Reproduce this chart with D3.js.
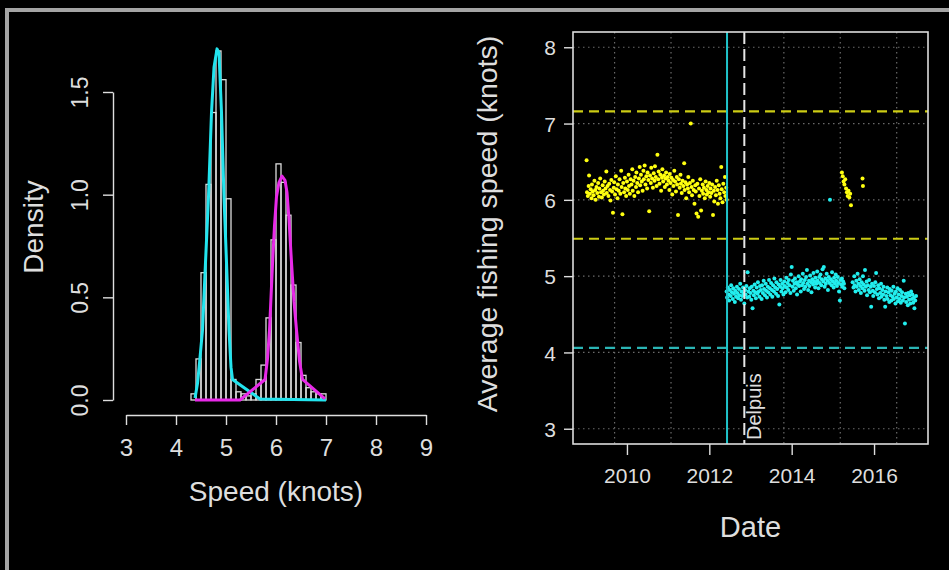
<!DOCTYPE html>
<html><head><meta charset="utf-8">
<script src="https://cdn.jsdelivr.net/npm/d3@7"></script>
<style>html,body{margin:0;padding:0;background:#000;}svg{display:block;}</style>
</head><body>
<script>
// ---------- DATA ----------
// Left panel: histogram of speeds (density) with fitted mixture components
const binStarts = [4.3,4.4,4.5,4.6,4.7,4.8,4.9,5.0,5.1,5.2,5.3,5.4,5.5,5.6,5.7,5.8,5.9,6.0,6.1,6.2,6.3,6.4,6.5,6.6,6.7,6.8,6.9];
const binDensity = [0.03,0.20,0.62,1.05,1.40,1.70,1.56,0.98,0.10,0.04,0.03,0.02,0.03,0.10,0.17,0.40,0.78,1.15,1.06,0.90,0.56,0.28,0.12,0.06,0.04,0.03,0.03];
const binWidth = 0.1;
const cyanCurve = [[4.38,0.01],[4.43,0.08],[4.47,0.18],[4.53,0.34],[4.59,0.67],[4.65,0.99],[4.71,1.40],[4.76,1.62],[4.82,1.71],[4.86,1.69],[4.91,1.40],[4.96,0.99],[5.01,0.67],[5.06,0.34],[5.10,0.16],[5.13,0.10],[5.68,0.005],[7.0,0.0]];
const magentaCurve = [[4.38,0.0],[5.28,0.0],[5.78,0.10],[5.83,0.20],[5.87,0.34],[5.93,0.66],[5.97,0.85],[6.01,0.99],[6.06,1.06],[6.12,1.09],[6.18,1.07],[6.22,1.01],[6.26,0.88],[6.31,0.67],[6.36,0.48],[6.41,0.34],[6.47,0.19],[6.53,0.10],[6.98,0.005]];
const xTicksL = [3,4,5,6,7,8,9];
const yTicksL = [0,0.5,1.0,1.5];

// Right panel: average fishing speed over time [decimal year, knots]
const yellowPts = [[2009.02,6.52],[2009.03,6.10],[2009.05,6.05],[2009.07,6.18],[2009.08,6.32],[2009.10,6.08],[2009.12,6.14],[2009.14,6.02],[2009.15,6.20],[2009.17,6.11],[2009.19,6.06],[2009.21,6.25],[2009.23,6.13],[2009.24,6.00],[2009.26,6.17],[2009.28,6.09],[2009.30,6.22],[2009.32,6.04],[2009.33,6.15],[2009.35,6.28],[2009.37,6.10],[2009.39,6.03],[2009.41,6.19],[2009.42,6.12],[2009.44,6.07],[2009.46,6.24],[2009.48,6.15],[2009.50,6.37],[2009.51,6.09],[2009.53,6.18],[2009.55,6.05],[2009.57,6.21],[2009.59,6.13],[2009.60,5.99],[2009.62,6.26],[2009.64,6.11],[2009.66,5.83],[2009.68,6.16],[2009.69,6.23],[2009.71,6.07],[2009.73,6.31],[2009.75,6.14],[2009.77,6.02],[2009.78,6.20],[2009.80,6.12],[2009.82,6.27],[2009.84,6.08],[2009.86,6.38],[2009.87,6.17],[2009.89,5.81],[2009.91,6.22],[2009.93,6.10],[2009.95,6.29],[2009.96,6.15],[2009.98,6.05],[2010.00,6.24],[2010.02,6.13],[2010.04,6.33],[2010.05,6.18],[2010.07,6.08],[2010.09,6.27],[2010.11,6.20],[2010.13,6.40],[2010.14,6.12],[2010.16,6.25],[2010.18,6.05],[2010.20,6.30],[2010.22,6.17],[2010.23,6.36],[2010.25,6.22],[2010.27,6.10],[2010.29,6.28],[2010.31,6.43],[2010.32,6.19],[2010.34,6.33],[2010.36,6.24],[2010.38,6.12],[2010.40,6.38],[2010.41,6.27],[2010.43,6.45],[2010.45,6.20],[2010.47,6.31],[2010.49,6.15],[2010.50,6.36],[2010.52,6.26],[2010.54,5.85],[2010.56,6.32],[2010.58,6.22],[2010.59,6.42],[2010.61,6.28],[2010.63,6.16],[2010.65,6.35],[2010.67,6.25],[2010.68,6.44],[2010.70,6.30],[2010.72,6.18],[2010.74,6.59],[2010.76,6.27],[2010.77,6.37],[2010.79,6.21],[2010.81,6.33],[2010.83,6.12],[2010.85,6.29],[2010.86,6.40],[2010.88,6.24],[2010.90,6.32],[2010.92,6.17],[2010.94,6.28],[2010.95,6.36],[2010.97,6.20],[2010.99,6.30],[2011.01,6.25],[2011.03,6.13],[2011.04,6.34],[2011.06,6.22],[2011.08,6.29],[2011.10,6.07],[2011.12,6.26],[2011.13,6.18],[2011.15,6.38],[2011.17,6.24],[2011.19,6.11],[2011.21,6.30],[2011.22,6.20],[2011.24,5.80],[2011.26,6.27],[2011.28,6.16],[2011.30,6.33],[2011.31,6.21],[2011.33,6.09],[2011.35,6.25],[2011.37,6.18],[2011.39,6.48],[2011.40,6.13],[2011.42,6.23],[2011.44,6.02],[2011.46,6.20],[2011.48,6.15],[2011.49,6.30],[2011.51,6.10],[2011.53,6.22],[2011.55,7.00],[2011.57,6.17],[2011.58,6.06],[2011.60,6.25],[2011.62,6.13],[2011.64,5.95],[2011.66,6.19],[2011.67,6.11],[2011.69,5.82],[2011.71,6.21],[2011.73,5.78],[2011.75,6.15],[2011.76,6.05],[2011.78,6.27],[2011.80,5.86],[2011.82,6.12],[2011.84,6.20],[2011.85,6.08],[2011.87,6.16],[2011.89,6.02],[2011.91,6.24],[2011.93,6.13],[2011.94,6.07],[2011.96,6.18],[2011.98,6.10],[2012.00,6.22],[2012.02,6.04],[2012.03,6.15],[2012.05,6.09],[2012.07,6.20],[2012.09,5.80],[2012.11,6.12],[2012.12,5.98],[2012.14,6.17],[2012.16,6.06],[2012.18,6.25],[2012.20,6.13],[2012.21,5.95],[2012.23,6.19],[2012.25,6.08],[2012.27,6.02],[2012.29,6.43],[2012.30,6.14],[2012.32,5.97],[2012.34,6.21],[2012.36,6.10],[2012.38,6.30],[2012.39,6.05],[2012.41,6.16],[2012.42,6.00],
[2015.22,6.36],[2015.24,6.31],[2015.26,6.24],[2015.28,6.20],[2015.30,6.27],[2015.32,6.15],[2015.34,6.10],[2015.36,6.05],[2015.38,6.12],[2015.40,6.03],[2015.42,6.08],[2015.44,5.93],[2015.72,6.28],[2015.73,6.18]];
const cyanPts = [[2012.42,4.80],[2012.43,4.72],[2012.45,4.85],[2012.47,4.76],[2012.48,4.68],[2012.50,4.82],[2012.52,4.74],[2012.53,4.88],[2012.55,4.79],[2012.57,4.70],[2012.58,4.84],[2012.60,4.77],[2012.62,4.66],[2012.63,4.81],[2012.65,4.73],[2012.67,4.86],[2012.68,4.78],[2012.70,4.71],[2012.72,4.83],[2012.73,4.75],[2012.75,4.90],[2012.77,4.69],[2012.78,4.80],[2012.80,4.74],[2012.82,4.85],[2012.83,4.77],[2012.85,4.64],[2012.87,4.82],[2012.88,4.76],[2012.90,4.87],[2012.92,4.72],[2012.93,5.05],[2012.95,4.80],[2012.97,4.73],[2012.98,4.84],[2013.00,4.78],[2013.02,4.69],[2013.03,4.86],[2013.05,4.58],[2013.07,4.81],[2013.08,4.75],[2013.10,4.89],[2013.12,4.79],[2013.13,4.71],[2013.15,4.85],[2013.17,4.77],[2013.18,4.92],[2013.20,4.80],[2013.22,4.73],[2013.23,4.87],[2013.25,4.82],[2013.27,4.70],[2013.28,4.88],[2013.30,4.78],[2013.32,4.94],[2013.33,4.83],[2013.35,4.75],[2013.37,4.90],[2013.38,4.81],[2013.40,4.72],[2013.42,4.86],[2013.43,4.79],[2013.45,4.95],[2013.47,4.84],[2013.48,4.76],[2013.50,4.91],[2013.52,4.82],[2013.53,4.73],[2013.55,4.88],[2013.57,4.80],[2013.58,4.97],[2013.60,4.85],[2013.62,4.77],[2013.63,4.92],[2013.65,4.83],[2013.67,4.74],[2013.68,4.89],[2013.70,4.63],[2013.72,4.86],[2013.73,4.95],[2013.75,4.80],[2013.77,4.90],[2013.78,4.84],[2013.80,4.76],[2013.82,4.93],[2013.83,4.87],[2013.85,4.79],[2013.87,4.98],[2013.88,4.85],[2013.90,4.91],[2013.92,4.82],[2013.93,4.95],[2013.95,4.88],[2013.97,4.78],[2013.98,5.02],[2014.00,5.12],[2014.02,4.86],[2014.03,4.94],[2014.05,4.81],[2014.07,4.90],[2014.08,4.97],[2014.10,4.84],[2014.12,4.92],[2014.13,4.76],[2014.15,4.89],[2014.17,5.00],[2014.18,4.87],[2014.20,4.93],[2014.22,4.80],[2014.23,4.96],[2014.25,4.88],[2014.27,5.03],[2014.28,4.91],[2014.30,4.83],[2014.32,4.95],[2014.33,4.86],[2014.35,4.99],[2014.37,5.08],[2014.38,4.90],[2014.40,4.82],[2014.42,4.94],[2014.43,4.87],[2014.45,5.01],[2014.47,4.92],[2014.48,4.79],[2014.50,4.96],[2014.52,4.89],[2014.53,5.04],[2014.55,4.93],[2014.57,4.85],[2014.58,4.98],[2014.60,4.90],[2014.62,5.06],[2014.63,4.94],[2014.65,4.84],[2014.67,4.99],[2014.68,4.91],[2014.70,5.02],[2014.72,4.88],[2014.73,4.96],[2014.75,5.09],[2014.77,4.93],[2014.78,5.12],[2014.80,4.86],[2014.82,4.97],[2014.83,4.90],[2014.85,5.03],[2014.87,4.94],[2014.88,4.82],[2014.90,4.99],[2014.92,4.91],[2014.93,6.00],[2014.95,4.96],[2014.97,4.88],[2014.98,5.05],[2015.00,4.93],[2015.02,4.85],[2015.03,4.98],[2015.05,4.90],[2015.07,5.02],[2015.08,4.94],[2015.10,4.87],[2015.12,4.99],[2015.13,4.91],[2015.15,4.80],[2015.17,4.68],[2015.18,4.95],[2015.20,4.89],[2015.22,4.97],[2015.23,4.86],[2015.25,4.93],[2015.27,4.90],[2015.28,4.84],[2015.48,4.92],[2015.50,4.85],[2015.52,5.00],[2015.53,4.88],[2015.55,4.80],[2015.57,4.94],[2015.58,4.86],[2015.60,5.03],[2015.62,4.90],[2015.63,4.82],[2015.65,4.96],[2015.67,4.87],[2015.68,4.78],[2015.70,4.92],[2015.72,4.84],[2015.73,5.00],[2015.75,4.89],[2015.77,4.81],[2015.78,5.08],[2015.80,4.86],[2015.82,4.93],[2015.83,4.75],[2015.85,4.88],[2015.87,4.82],[2015.88,4.95],[2015.90,4.79],[2015.92,4.86],[2015.93,4.60],[2015.95,4.90],[2015.97,4.81],[2015.98,4.74],[2016.00,4.87],[2016.02,4.79],[2016.03,4.92],[2016.05,5.04],[2016.07,4.83],[2016.08,4.76],[2016.10,4.88],[2016.12,4.71],[2016.13,4.84],[2016.15,4.78],[2016.17,4.90],[2016.18,4.73],[2016.20,4.82],[2016.22,4.76],[2016.23,4.86],[2016.25,4.69],[2016.27,4.60],[2016.28,4.80],[2016.30,4.74],[2016.32,4.85],[2016.33,4.70],[2016.35,4.79],[2016.37,4.66],[2016.38,4.83],[2016.40,4.75],[2016.42,4.68],[2016.43,4.81],[2016.45,4.73],[2016.47,4.86],[2016.48,4.70],[2016.50,4.77],[2016.52,4.64],[2016.53,4.80],[2016.55,4.72],[2016.57,4.84],[2016.58,4.67],[2016.60,4.76],[2016.62,4.70],[2016.63,4.82],[2016.65,4.65],[2016.67,4.74],[2016.68,4.79],[2016.70,4.68],[2016.72,4.94],[2016.73,4.72],[2016.75,4.38],[2016.77,4.77],[2016.78,4.66],[2016.80,4.73],[2016.82,4.62],[2016.83,4.78],[2016.85,4.69],[2016.87,4.75],[2016.88,4.64],[2016.90,4.80],[2016.92,4.70],[2016.93,4.76],[2016.95,4.65],[2016.97,4.72],[2016.98,4.58],[2017.00,4.68],[2017.02,4.74]];
const yellowLimits = [7.16, 5.49];
const cyanLimits = [4.06];
const changeYear = 2012.43;      // solid cyan vertical line
const delpuisYear = 2012.85;     // dashed white vertical line
const delpuisLabel = "Delpuis";
const xTicksR = [2010,2012,2014,2016];
const yTicksR = [3,4,5,6,7,8];
const gridYears = [2009.70,2011.07,2012.44,2013.81,2015.18,2016.55];

// ---------- DRAW ----------
const W = 949, H = 570;
const FONT = "'Liberation Sans', Arial, Helvetica, sans-serif";
const TXT = "#dedede";
const svg = d3.select("body").append("svg").attr("width", W).attr("height", H)
  .style("background", "#000").style("font-family", FONT);
svg.append("rect").attr("width", W).attr("height", H).attr("fill", "#000");

// frame
svg.append("line").attr("x1", 7).attr("x2", 7).attr("y1", 8).attr("y2", H).attr("stroke", "#a4a4a4").attr("stroke-width", 4);
svg.append("line").attr("x1", 5).attr("x2", W).attr("y1", 10).attr("y2", 10).attr("stroke", "#a4a4a4").attr("stroke-width", 4);

function styleAxis(g) {
  g.selectAll("path,line").attr("stroke", TXT).attr("stroke-width", 1.4);
  g.selectAll("text").attr("fill", TXT).style("font-family", FONT);
}

// ----- Left panel -----
const xL = d3.scaleLinear().domain([3, 9]).range([126, 426]);
const yL = d3.scaleLinear().domain([0, 1.5]).range([400, 92]);
const gLeft = svg.append("g");

gLeft.selectAll("rect.bar").data(binStarts).enter().append("rect")
  .attr("x", d => xL(d)).attr("width", d => xL(d + binWidth) - xL(d))
  .attr("y", (d, i) => yL(binDensity[i])).attr("height", (d, i) => yL(0) - yL(binDensity[i]))
  .attr("fill", "none").attr("stroke", "#dcdcdc").attr("stroke-width", 1.3);

const lineL = d3.line().x(d => xL(d[0])).y(d => yL(d[1]));
gLeft.append("path").attr("d", lineL(cyanCurve)).attr("fill", "none").attr("stroke", "#22e4ee").attr("stroke-width", 3).attr("stroke-linejoin", "round");
gLeft.append("path").attr("d", lineL(magentaCurve)).attr("fill", "none").attr("stroke", "#e829e8").attr("stroke-width", 3).attr("stroke-linejoin", "round");

const axLY = gLeft.append("g").attr("transform", "translate(113,0)")
  .call(d3.axisLeft(yL).tickValues(yTicksL).tickSize(10).tickSizeOuter(0).tickFormat(d3.format(".1f")));
styleAxis(axLY);
axLY.selectAll("text").attr("x", null).attr("dy", null).attr("text-anchor", "middle")
  .attr("transform", "translate(-25,0) rotate(-90)").style("font-size", "23px");

const axLX = gLeft.append("g").attr("transform", "translate(0,415)")
  .call(d3.axisBottom(xL).tickValues(xTicksL).tickSize(10).tickSizeOuter(0).tickFormat(d3.format("d")));
styleAxis(axLX);
axLX.selectAll("text").attr("y", 41).attr("dy", null).style("font-size", "24px");

gLeft.append("text").attr("transform", "translate(43,227) rotate(-90)").attr("text-anchor", "middle")
  .attr("fill", TXT).style("font-size", "28px").text("Density");
gLeft.append("text").attr("x", 276).attr("y", 501).attr("text-anchor", "middle")
  .attr("fill", TXT).style("font-size", "28px").text("Speed (knots)");

// ----- Right panel -----
const box = {x0: 573, x1: 928, y0: 32, y1: 444};
const xR = d3.scaleLinear().domain([2008.69, 2017.31]).range([box.x0, box.x1]);
const yR = d3.scaleLinear().domain([2.8, 8.2]).range([box.y1, box.y0]);
const gR = svg.append("g");

// grid
gR.selectAll("line.gy").data(yTicksR).enter().append("line")
  .attr("x1", box.x0).attr("x2", box.x1).attr("y1", d => yR(d)).attr("y2", d => yR(d))
  .attr("stroke", "#6a6a6a").attr("stroke-width", 1.2).attr("stroke-dasharray", "1.5,3.5");
gR.selectAll("line.gx").data(gridYears).enter().append("line")
  .attr("x1", d => xR(d)).attr("x2", d => xR(d)).attr("y1", box.y0).attr("y2", box.y1)
  .attr("stroke", "#6a6a6a").attr("stroke-width", 1.2).attr("stroke-dasharray", "1.5,3.5");

// limit lines
gR.selectAll("line.yl").data(yellowLimits).enter().append("line")
  .attr("x1", box.x0).attr("x2", box.x1).attr("y1", d => yR(d)).attr("y2", d => yR(d))
  .attr("stroke", "#cccc14").attr("stroke-width", 2.2).attr("stroke-dasharray", "10,6");
gR.selectAll("line.cl").data(cyanLimits).enter().append("line")
  .attr("x1", box.x0).attr("x2", box.x1).attr("y1", d => yR(d)).attr("y2", d => yR(d))
  .attr("stroke", "#2bb5b5").attr("stroke-width", 2.2).attr("stroke-dasharray", "10,6");

// points
gR.selectAll("circle.y").data(yellowPts).enter().append("circle")
  .attr("cx", d => xR(d[0])).attr("cy", d => yR(d[1])).attr("r", 2).attr("fill", "#ffff10");
gR.selectAll("circle.c").data(cyanPts).enter().append("circle")
  .attr("cx", d => xR(d[0])).attr("cy", d => yR(d[1])).attr("r", 2).attr("fill", "#22eeee");

// vertical lines
gR.append("line").attr("x1", xR(changeYear)).attr("x2", xR(changeYear)).attr("y1", box.y0).attr("y2", box.y1)
  .attr("stroke", "#1fc3c9").attr("stroke-width", 2);
gR.append("line").attr("x1", xR(delpuisYear)).attr("x2", xR(delpuisYear)).attr("y1", box.y0).attr("y2", box.y1)
  .attr("stroke", "#e6e6e6").attr("stroke-width", 2).attr("stroke-dasharray", "12,5");
gR.append("text").attr("transform", `translate(${xR(delpuisYear) + 17},440) rotate(-90)`)
  .attr("fill", TXT).style("font-size", "20px").text(delpuisLabel);

// box
gR.append("rect").attr("x", box.x0).attr("y", box.y0).attr("width", box.x1 - box.x0).attr("height", box.y1 - box.y0)
  .attr("fill", "none").attr("stroke", "#dcdcdc").attr("stroke-width", 1.6);

const axRY = gR.append("g").attr("transform", `translate(${box.x0},0)`)
  .call(d3.axisLeft(yR).tickValues(yTicksR).tickSize(9).tickFormat(d3.format("d")));
axRY.select(".domain").remove();
styleAxis(axRY);
axRY.selectAll("text").attr("x", -17).attr("dy", "0.36em").style("font-size", "21px");

const axRX = gR.append("g").attr("transform", `translate(0,${box.y1})`)
  .call(d3.axisBottom(xR).tickValues(xTicksR).tickSize(11).tickFormat(d3.format("d")));
axRX.select(".domain").remove();
styleAxis(axRX);
axRX.selectAll("text").attr("y", 39).attr("dy", null).style("font-size", "21px");

gR.append("text").attr("transform", "translate(497,224) rotate(-90)").attr("text-anchor", "middle")
  .attr("fill", TXT).style("font-size", "28.5px").text("Average fishing speed (knots)");
gR.append("text").attr("x", (box.x0 + box.x1) / 2).attr("y", 537).attr("text-anchor", "middle")
  .attr("fill", TXT).style("font-size", "29px").text("Date");
</script>
</body></html>
